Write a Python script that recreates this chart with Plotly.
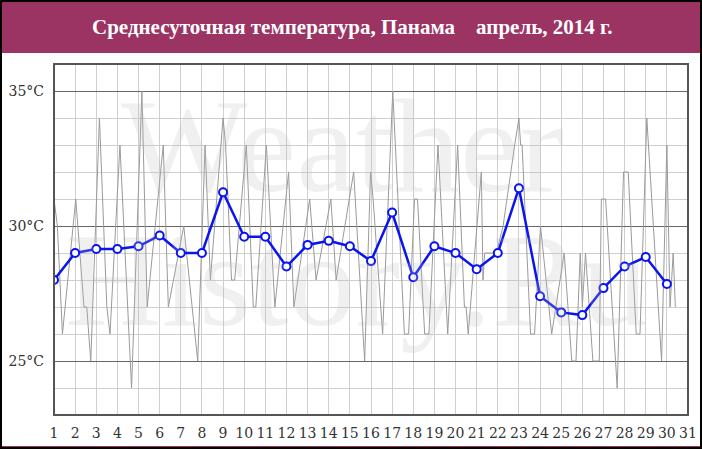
import plotly.graph_objects as go

# Daily mean temperature, Panama, April 2014
days = list(range(1, 31))
daily_mean = [28.0, 29.0, 29.15, 29.15, 29.25, 29.65, 29.0, 29.0, 31.25, 29.6,
              29.6, 28.5, 29.3, 29.45, 29.25, 28.7, 30.5, 28.1, 29.25, 29.0,
              28.4, 29.0, 31.4, 27.4, 26.8, 26.7, 27.7, 28.5, 28.85, 27.85]

# Individual observations (fractional day, °C)
obs_time = [1.00, 1.16, 1.40, 2.03, 2.42, 2.55, 2.74, 3.15, 3.50, 3.65,
            4.12, 4.67, 5.16, 5.41, 6.17, 6.41, 7.14, 7.80, 8.15, 8.40,
            9.00, 9.12, 9.40, 9.55, 10.10, 10.43, 10.55, 11.05, 11.45, 12.10,
            12.35, 13.10, 13.40, 14.10, 14.35, 15.18, 15.70, 15.98, 16.10, 16.55,
            17.03, 17.58, 17.78, 18.06, 18.20, 18.54, 18.74, 19.17, 19.63, 20.10,
            20.42, 20.50, 20.60, 21.22, 21.30, 21.38, 21.93, 22.25, 22.80, 23.00,
            23.08, 23.15, 23.55, 23.74, 24.02, 24.55, 25.14, 25.50, 25.70, 25.90,
            26.00, 26.15, 26.50, 26.80, 26.90, 27.10, 27.65, 27.95, 28.17, 28.55,
            28.73, 29.05, 29.75, 30.00, 30.15, 30.30, 30.40]
obs_temp = [31, 30, 26, 31, 27, 27, 25, 34, 27, 26,
            33, 24, 35, 27, 33, 27, 30, 25, 33, 28,
            34, 33, 28, 28, 33, 27, 27, 33, 27, 32,
            27, 31, 28, 31, 28, 32, 25, 32, 31, 26,
            35, 26, 26, 31, 31, 26, 26, 33, 26, 33,
            27, 27, 26, 32, 28, 29, 29, 30, 33, 34,
            33, 33, 26, 26, 30, 26, 29, 25, 25, 29,
            27, 29, 25, 25, 31, 31, 24, 32, 32, 26,
            26, 34, 25, 33, 27, 29, 27]

x_ticks = list(range(1, 32))
x_labels = [str(v) for v in x_ticks]
y_ticks = [25, 30, 35]
y_labels = ["25°C", "30°C", "35°C"]
title_text = "Среднесуточная температура, Панама    апрель, 2014 г."

W, H = 702, 449
L, R, T, B = 54, 14, 64, 34
pw, ph = W - L - R, H - T - B


def px(xp):
    return (xp - L) / pw


def py(yp):
    return (H - B - yp) / ph


fig = go.Figure()

fig.add_trace(go.Scatter(x=obs_time, y=obs_temp, mode="lines",
                         line=dict(color="#9a9a9a", width=1),
                         hoverinfo="skip", showlegend=False))
fig.add_trace(go.Scatter(x=days, y=daily_mean, mode="lines+markers",
                         line=dict(color="#0a14f0", width=2.5),
                         marker=dict(size=8, color="white",
                                     line=dict(color="#0a14f0", width=2)),
                         showlegend=False))

shapes = [
    dict(type="rect", xref="paper", yref="paper", x0=px(0), x1=px(W),
         y0=py(53), y1=py(0), fillcolor="#9b3363", line=dict(width=0),
         layer="below"),
    dict(type="rect", xref="paper", yref="paper", x0=px(0), x1=px(W),
         y0=py(H), y1=py(446), fillcolor="#9b3363", line=dict(width=0),
         layer="below"),
    dict(type="rect", xref="paper", yref="paper", x0=px(1), x1=px(W - 1),
         y0=py(H - 1), y1=py(1), line=dict(color="black", width=2),
         fillcolor="rgba(0,0,0,0)"),
    dict(type="rect", xref="paper", yref="paper", x0=0, x1=1, y0=0, y1=1,
         line=dict(color="#555555", width=2), fillcolor="rgba(0,0,0,0)"),
]

wm_font = dict(family="Liberation Serif", size=134,
               color="rgba(185,185,185,0.22)")
annotations = [
    dict(text="<b>" + title_text + "</b>", xref="paper", yref="paper",
         x=px(352), y=py(27), showarrow=False, xanchor="center",
         yanchor="middle",
         font=dict(family="Liberation Serif", size=21, color="white")),
    dict(text="Weather", xref="paper", yref="paper", x=px(342), y=py(146),
         showarrow=False, xanchor="center", yanchor="middle", font=wm_font),
    dict(text="History.Ru", xref="paper", yref="paper", x=px(356), y=py(280),
         showarrow=False, xanchor="center", yanchor="middle", font=wm_font),
]

fig.update_layout(
    width=W, height=H,
    margin=dict(l=L, r=R, t=T, b=B, pad=0, autoexpand=False),
    paper_bgcolor="white", plot_bgcolor="white",
    shapes=shapes, annotations=annotations,
    xaxis=dict(range=[1, 31], tickmode="array", tickvals=x_ticks,
               ticktext=x_labels, automargin=False,
               showgrid=True, gridcolor="#cfcfcf", gridwidth=1,
               zeroline=False, showline=False, ticks="",
               tickfont=dict(family="DejaVu Serif", size=14, color="#333333"),
               ticklabelstandoff=8),
    yaxis=dict(range=[23, 36], tickmode="array", tickvals=y_ticks,
               ticktext=y_labels, automargin=False,
               showgrid=True, gridcolor="#666666", gridwidth=1,
               minor=dict(dtick=1, showgrid=True, gridcolor="#cfcfcf", gridwidth=1),
               zeroline=False, showline=False, ticks="",
               tickfont=dict(family="DejaVu Serif", size=14, color="#333333"),
               ticklabelstandoff=9),
)

fig.write_html(
    "out.html",
    config={"displayModeBar": False},
    post_script="document.body.style.margin='0px';"
                "document.body.style.overflow='hidden';",
)
